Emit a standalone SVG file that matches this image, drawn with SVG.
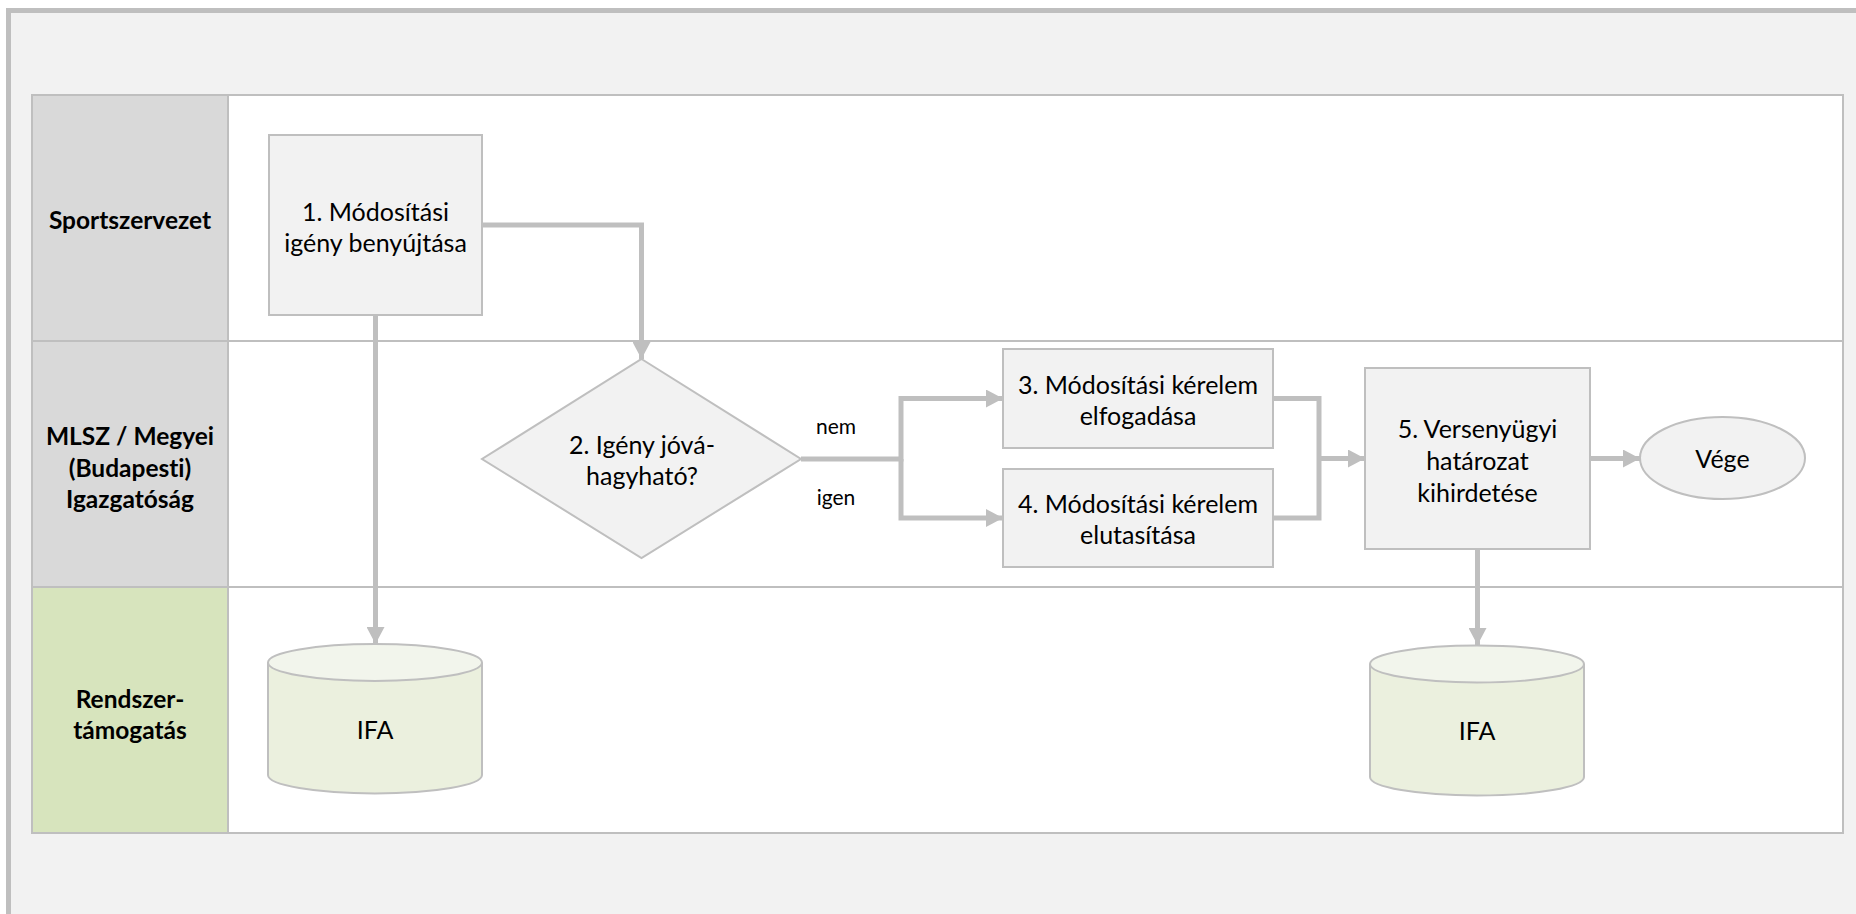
<svg xmlns="http://www.w3.org/2000/svg" width="1856" height="914" viewBox="0 0 1856 914">
<defs>
<style>
.frame{fill:#f2f2f2;stroke:#bfbfbf;stroke-width:5}
.lane{fill:#ffffff;stroke:#bfbfbf;stroke-width:2}
.hdr{fill:#d9d9d9;stroke:#bfbfbf;stroke-width:2}
.hdrg{fill:#d7e4bd;stroke:#bfbfbf;stroke-width:2}
.box{fill:#f2f2f2;stroke:#bfbfbf;stroke-width:2}
.db{fill:#ebf0de;stroke:#bfbfbf;stroke-width:2}
.dbtop{fill:#f2f5ec;stroke:#bfbfbf;stroke-width:2}
.conn{fill:none;stroke:#bfbfbf;stroke-width:5;stroke-linejoin:miter}
text{font-variant-ligatures:none}
.t{font-family:Lato,"Open Sans","Liberation Sans",sans-serif;font-size:25px;fill:#000;text-anchor:middle;dominant-baseline:central}
.h{font-family:Lato,"Open Sans","Liberation Sans",sans-serif;font-size:24.5px;font-weight:bold;fill:#000;text-anchor:middle;dominant-baseline:central}
.l{font-family:Lato,"Open Sans","Liberation Sans",sans-serif;font-size:21px;fill:#000;text-anchor:middle;dominant-baseline:central}
</style>
<marker id="arr" markerWidth="18" markerHeight="18" viewBox="0 0 18 18" refX="17" refY="9" orient="auto" markerUnits="userSpaceOnUse">
<path d="M0,0 L17,9 L0,18 Z" fill="#bfbfbf"/>
</marker>
</defs>
<rect x="0" y="0" width="1856" height="914" fill="#ffffff"/>
<rect class="frame" x="8.5" y="10.5" width="1900" height="1000"/>

<g id="lanes">
<rect class="lane" x="32" y="95" width="1811" height="246"/>
<rect class="lane" x="32" y="341" width="1811" height="246"/>
<rect class="lane" x="32" y="587" width="1811" height="246"/>
<rect class="hdr" x="32" y="95" width="196" height="246"/>
<rect class="hdr" x="32" y="341" width="196" height="246"/>
<rect class="hdrg" x="32" y="587" width="196" height="246"/>
<text class="h" x="130" y="219">Sportszervezet</text>
<text class="h" x="130" y="435">MLSZ / Megyei</text>
<text class="h" x="130" y="467">(Budapesti)</text>
<text class="h" x="130" y="498">Igazgatóság</text>
<text class="h" x="130" y="698">Rendszer-</text>
<text class="h" x="130" y="729">támogatás</text>
</g>

<g id="connectors">
<path class="conn" d="M482,225 H641.5 V359" marker-end="url(#arr)"/>
<path class="conn" d="M375.5,315 V644" marker-end="url(#arr)"/>
<path class="conn" d="M801,459 H901 V398.5 H1003" marker-end="url(#arr)"/>
<path class="conn" d="M901,459 V518 H1003" marker-end="url(#arr)"/>
<path class="conn" d="M1273,398.5 H1319 V518 H1273"/>
<path class="conn" d="M1319,458.5 H1365" marker-end="url(#arr)"/>
<path class="conn" d="M1590,458.5 H1640" marker-end="url(#arr)"/>
<path class="conn" d="M1477.5,549 V645" marker-end="url(#arr)"/>
<text class="l" x="836" y="425">nem</text>
<text class="l" x="836" y="496">igen</text>
</g>

<g id="n1">
<rect class="box" x="269" y="135" width="213" height="180"/>
<text class="t" x="375.5" y="211">1. Módosítási</text>
<text class="t" x="375.5" y="242">igény benyújtása</text>
</g>

<g id="n2">
<polygon class="box" points="641.5,359 801,459 641.5,558 482,459"/>
<text class="t" x="642" y="444">2. Igény jóvá-</text>
<text class="t" x="642" y="475">hagyható?</text>
</g>

<g id="n3">
<rect class="box" x="1003" y="349" width="270" height="99"/>
<text class="t" x="1138" y="384">3. Módosítási kérelem</text>
<text class="t" x="1138" y="415">elfogadása</text>
</g>

<g id="n4">
<rect class="box" x="1003" y="469" width="270" height="98"/>
<text class="t" x="1138" y="503">4. Módosítási kérelem</text>
<text class="t" x="1138" y="534">elutasítása</text>
</g>

<g id="n5">
<rect class="box" x="1365" y="368" width="225" height="181"/>
<text class="t" x="1477.5" y="428">5. Versenyügyi</text>
<text class="t" x="1477.5" y="460">határozat</text>
<text class="t" x="1477.5" y="492">kihirdetése</text>
</g>

<g id="n6">
<ellipse class="box" cx="1722.5" cy="458" rx="82.5" ry="41"/>
<text class="t" x="1722.5" y="458">Vége</text>
</g>

<g id="db1">
<path class="db" d="M268,662.5 V775 A107,18.5 0 0 0 482,775 V662.5"/>
<ellipse class="dbtop" cx="375" cy="662.5" rx="107" ry="18.5"/>
<text class="t" x="375" y="729">IFA</text>
</g>

<g id="db2">
<path class="db" d="M1370,664 V777 A107,18.5 0 0 0 1584,777 V664"/>
<ellipse class="dbtop" cx="1477" cy="664" rx="107" ry="18.5"/>
<text class="t" x="1477" y="730">IFA</text>
</g>
</svg>
